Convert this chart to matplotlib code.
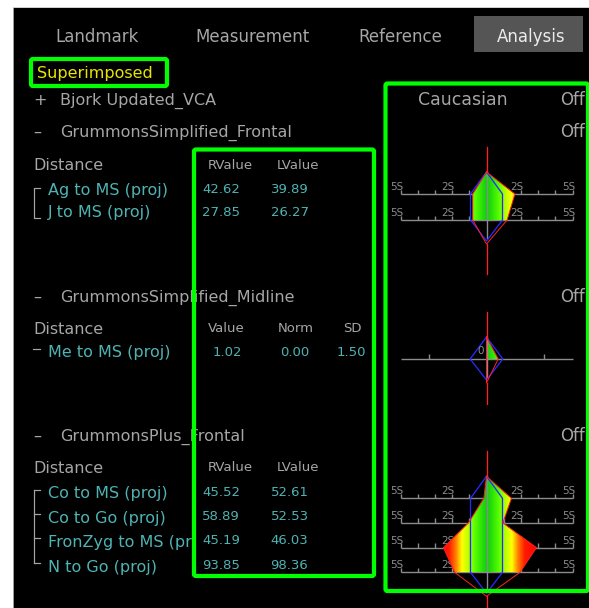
import numpy as np
import matplotlib
matplotlib.use("Agg")
import matplotlib.pyplot as plt
from matplotlib.patches import Rectangle, Polygon, FancyBboxPatch
from matplotlib.colors import LinearSegmentedColormap

# --- DATA ---
tabs = ["Landmark", "Measurement", "Reference", "Analysis"]
active_tab = "Analysis"
mode_label = "Superimposed"
population = "Caucasian"
group_names = ["Bjork Updated_VCA", "GrummonsSimplified_Frontal",
               "GrummonsSimplified_Midline", "GrummonsPlus_Frontal"]
group_marks = ["+", "\u2013", "\u2013", "\u2013"]
group_state = ["Off", "Off", "Off", "Off"]

frontal_labels = ["Ag to MS (proj)", "J to MS (proj)"]
frontal_r = [42.62, 27.85]
frontal_l = [39.89, 26.27]
frontal_right_sd = [1.65, 1.2]     # polygon edge, SD units
frontal_left_sd = [-0.8, -0.8]

midline_labels = ["Me to MS (proj)"]
midline_value = [1.02]
midline_norm = [0.00]
midline_sd = [1.50]

plus_labels = ["Co to MS (proj)", "Co to Go (proj)", "FronZyg to MS (proj)", "N to Go (proj)"]
plus_r = [45.52, 58.89, 45.19, 93.85]
plus_l = [52.61, 52.53, 46.03, 98.36]
plus_right_sd = [1.45, 0.95, 2.9, 1.95]
plus_left_sd = [-0.15, -1.05, -2.5, -1.85]

norm_band_sd = 0.93
sd_ticks = [-5, -4, -3, -2, -1, 1, 2, 3, 4, 5]
sd_tick_labels = {-5: "5S", -2: "2S", 2: "2S", 5: "5S"}
midline_tick_mm = [-5, 5]

# --- STYLE ---
W, H = 589, 608
GRAY = "#a6a6a6"
TEAL = "#4fb3b3"
YELLOW = "#e6e600"
GREEN = "#00ff00"
AXIS_GRAY = "#8c8c8c"
BLUE = "#2a2aff"
RED = "#ff2020"
FONT = "DejaVu Sans"
MAIN_PT = 11.5
SMALL_PT = 9.5
PX_PER_SD = 17.2
CENTER_X = 486.5
PX = 0.72  # one pixel in points

CMAP = LinearSegmentedColormap.from_list("dev", [
    (0.0, (0.05, 0.80, 0.05)),
    (0.7 / 3, (0.35, 1.0, 0.0)),
    (1.1 / 3, (0.75, 1.0, 0.0)),
    (1.45 / 3, (1.0, 1.0, 0.0)),
    (1.8 / 3, (1.0, 0.50, 0.0)),
    (2.2 / 3, (1.0, 0.10, 0.0)),
    (1.0, (1.0, 0.0, 0.0)),
])

fig = plt.figure(figsize=(W / 100, H / 100), dpi=100, facecolor="white")
bg = fig.add_axes([0, 0, 1, 1])
bg.set_xlim(0, W)
bg.set_ylim(H, 0)
bg.axis("off")
bg.add_patch(Rectangle((13, 7), W - 13, H - 7, facecolor="black", edgecolor="none"))
bg.plot([12.5, 12.5], [6.5, H], color="#9a9a9a", lw=PX)
bg.plot([12.5, W], [6.5, 6.5], color="#cfcfcf", lw=PX)


def txt(x, y, s, color=GRAY, size=MAIN_PT, ha="left", **kw):
    return bg.text(x, y, s, color=color, fontsize=size, ha=ha, va="baseline",
                   family=FONT, **kw)


# tabs
tab_x = [55, 195, 358, 497]
bg.add_patch(Rectangle((474, 16), 109, 36, facecolor="#555555", edgecolor="none"))
for name, x in zip(tabs, tab_x):
    txt(x, 42.5, name, color="#ececec" if name == active_tab else GRAY, size=12)

txt(37, 78.3, mode_label, color=YELLOW, size=MAIN_PT)

# group headers
header_y = [105, 136.7, 301.7, 440.7]
for mark, name, y in zip(group_marks, group_names, header_y):
    txt(33, y, mark)
    txt(60, y, name)
txt(418, 105, population, size=12.5)
for st, y in zip(group_state, header_y):
    txt(560, y, st, size=12)

# --- section 1: GrummonsSimplified_Frontal ---
txt(33, 170, "Distance")
txt(208, 169.3, "RValue", size=SMALL_PT)
txt(277, 169.3, "LValue", size=SMALL_PT)
for lab, r, l, y, vy in zip(frontal_labels, frontal_r, frontal_l, [195, 216.7], [193.3, 216]):
    txt(48, y, lab, color=TEAL)
    txt(202, vy, f"{r:.2f}", color=TEAL, size=SMALL_PT)
    txt(271, vy, f"{l:.2f}", color=TEAL, size=SMALL_PT)
bg.plot([40, 33.5, 33.5, 40], [188.3, 188.3, 218.3, 218.3], color=GRAY, lw=PX * 1.2)

# --- section 2: midline ---
txt(33, 334, "Distance")
for s, x in zip(["Value", "Norm", "SD"], [208, 277.5, 343]):
    txt(x, 331.7, s, size=SMALL_PT)
for lab, v, n, sd in zip(midline_labels, midline_value, midline_norm, midline_sd):
    txt(48, 356.7, lab, color=TEAL)
    txt(213, 356, f"{v:.2f}", color=TEAL, size=SMALL_PT)
    txt(280, 356, f"{n:.2f}", color=TEAL, size=SMALL_PT)
    txt(337, 356, f"{sd:.2f}", color=TEAL, size=SMALL_PT)
bg.plot([33, 40], [348.5, 348.5], color=GRAY, lw=PX * 1.2)

# --- section 3: GrummonsPlus_Frontal ---
txt(33, 473.3, "Distance")
txt(208, 470.7, "RValue", size=SMALL_PT)
txt(277, 470.7, "LValue", size=SMALL_PT)
plus_y = [498.3, 522.7, 546.7, 571.7]
clip = Rectangle((0, 0), 192, H, transform=bg.transData)
for lab, r, l, y in zip(plus_labels, plus_r, plus_l, plus_y):
    t = txt(48, y, lab, color=TEAL)
    t.set_clip_path(clip)
    t.set_clip_on(True)
    txt(202, y - 2.5, f"{r:.2f}", color=TEAL, size=SMALL_PT)
    txt(270.5, y - 2.5, f"{l:.2f}", color=TEAL, size=SMALL_PT)
bg.plot([33.5, 33.5], [490, 563.3], color=GRAY, lw=PX * 1.2)
for y in [490, 514, 538.3, 563.3]:
    bg.plot([33.5, 40], [y, y], color=GRAY, lw=PX * 1.2)


# --- deviation charts ---
def chart_axes(y_first_row, row_px, y_top, y_bot, x_left=388, x_right=587):
    ax = fig.add_axes([x_left / W, 1 - y_bot / H, (x_right - x_left) / W, (y_bot - y_top) / H])
    ax.set_xlim((x_left - CENTER_X) / PX_PER_SD, (x_right - CENTER_X) / PX_PER_SD)
    ax.set_ylim((y_bot - y_first_row) / row_px, (y_top - y_first_row) / row_px)
    ax.axis("off")
    ax.patch.set_visible(False)
    return ax


def draw_scale(ax, row, row_px, ticks, labels):
    ax.plot([-5, 5], [row, row], color=AXIS_GRAY, lw=1.4 * PX, zorder=1, solid_capstyle="butt")
    ax.vlines(ticks, row - 4.5 / row_px, row, color=AXIS_GRAY, lw=1.4 * PX, zorder=1)
    for k, lab in labels.items():
        ax.text(k - 0.23, row - 4 / row_px, lab, color=AXIS_GRAY, fontsize=7.5,
                ha="center", va="baseline", family=FONT, zorder=1)


def draw_profile(ax, right_sd, left_sd, row_px, band=norm_band_sd):
    rows = np.arange(len(right_sd))
    last = rows[-1]
    top = -22 / row_px
    red_bot = last + 24 / row_px
    blue_bot = last + 21 / row_px
    # gradient fill clipped to the measured outline
    verts = [(0, top)] + list(zip(right_sd, rows)) + list(zip(left_sd[::-1], rows[::-1]))
    poly = Polygon(verts, closed=True, facecolor="none", edgecolor="none")
    ax.add_patch(poly)
    xs = np.linspace(-5.5, 5.5, 600)
    im = ax.imshow(np.abs(xs)[None, :], cmap=CMAP, vmin=0, vmax=3, aspect="auto",
                   extent=(xs[0], xs[-1], last, top), zorder=2, interpolation="bilinear")
    im.set_clip_path(poly)
    # centre line and red stem
    ax.plot([0, 0], [top, blue_bot - 3 / row_px], color=AXIS_GRAY, lw=1.4 * PX, zorder=3)
    ax.plot([0, 0], [top - 25 / row_px, top], color=RED, lw=1.3 * PX, zorder=5)
    ax.plot([0, 0], [red_bot, red_bot + 30 / row_px], color=RED, lw=1.3 * PX, zorder=5)
    # norm band
    bx = [0] + [band] * len(rows) + [0] + [-band] * len(rows) + [0]
    by = [top] + list(rows) + [blue_bot] + list(rows[::-1]) + [top]
    ax.plot(bx, by, color=BLUE, lw=1.3 * PX, zorder=4)
    # measured outline
    rx = [0] + list(right_sd) + [0] + list(left_sd[::-1]) + [0]
    ry = [top] + list(rows) + [red_bot] + list(rows[::-1]) + [top]
    ax.plot(rx, ry, color=RED, lw=1.0 * PX, zorder=5)


# chart 1
ax1 = chart_axes(194, 26, 140, 278)
lims = (ax1.get_xlim(), ax1.get_ylim())
for r in range(len(frontal_labels)):
    draw_scale(ax1, r, 26, sd_ticks, sd_tick_labels)
draw_profile(ax1, frontal_right_sd, frontal_left_sd, 26)
ax1.set_xlim(lims[0]); ax1.set_ylim(lims[1])

# chart 2
ax2 = chart_axes(359, 26, 300, 405)
lims = (ax2.get_xlim(), ax2.get_ylim())
dev = [(v - n) / s for v, n, s in zip(midline_value, midline_norm, midline_sd)]
draw_scale(ax2, 0, 26, [t / midline_sd[0] for t in midline_tick_mm], {})
draw_profile(ax2, dev, [0.0] * len(dev), 26, band=0.95)
ax2.text(-0.32, -0.2, f"{midline_norm[0]:.0f}", color=AXIS_GRAY, fontsize=7.5,
         ha="center", va="baseline", family=FONT, zorder=6)
ax2.set_xlim(lims[0]); ax2.set_ylim(lims[1])

# chart 3
ax3 = chart_axes(498.3, 24.67, 440, 608)
lims = (ax3.get_xlim(), ax3.get_ylim())
for r in range(len(plus_labels)):
    draw_scale(ax3, r, 24.67, sd_ticks, sd_tick_labels)
draw_profile(ax3, plus_right_sd, plus_left_sd, 24.67)
ax3.set_xlim(lims[0]); ax3.set_ylim(lims[1])

# --- green highlight boxes on top ---
ov = fig.add_axes([0, 0, 1, 1], zorder=10)
ov.set_xlim(0, W)
ov.set_ylim(H, 0)
ov.axis("off")
ov.patch.set_visible(False)
for x0, y0, x1, y1 in [(31, 59, 167, 86), (194, 149.5, 374, 576), (385.5, 83.5, 588, 591)]:
    ov.add_patch(FancyBboxPatch((x0, y0), x1 - x0, y1 - y0, boxstyle="round,pad=0,rounding_size=2",
                                facecolor="none", edgecolor=GREEN, lw=4.2 * PX))

fig.savefig("out.png", dpi=100, facecolor="white")
